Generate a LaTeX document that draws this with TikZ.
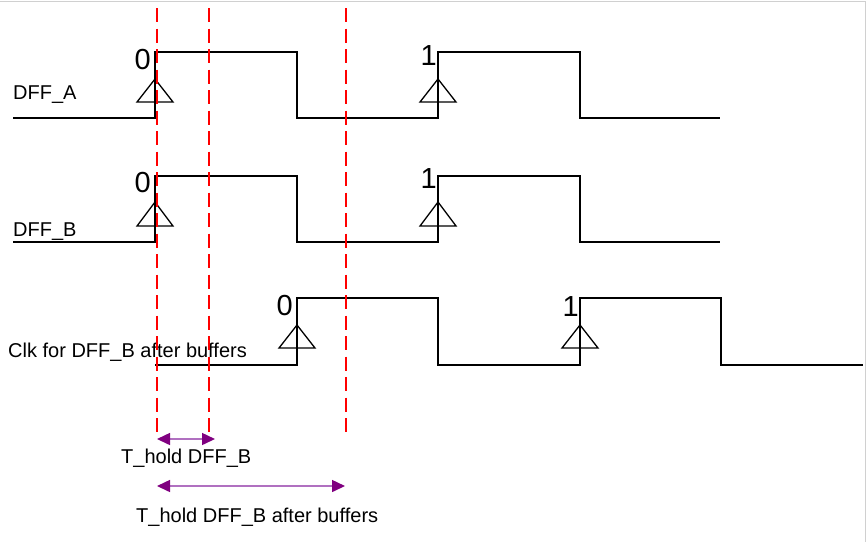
\documentclass[tikz,border=0pt]{standalone}
\usepackage{fontspec}
\setmainfont{Liberation Sans}
\usetikzlibrary{arrows.meta}
\definecolor{holdtip}{HTML}{800080}
\definecolor{holdline}{HTML}{B070C0}
\definecolor{framegray}{HTML}{D0D0D0}

\begin{document}
\begin{tikzpicture}[x=1pt, y=-1pt,
    wave/.style={line width=2.4pt, line join=miter},
    edgemark/.style={line width=1.3pt},
    cutline/.style={color=red, line width=2.2pt, dash pattern=on 14pt off 6.5pt},
    holdspan/.style={draw=holdline, line width=1.5pt,
      {Triangle[length=13pt,width=12pt,color=holdtip]}-{Triangle[length=13pt,width=12pt,color=holdtip]}},
    sig/.style={inner sep=0pt, anchor=base west, font=\fontsize{20}{24}\selectfont},
    bit/.style={inner sep=0pt, anchor=base east, font=\fontsize{29}{34}\selectfont}]
    \useasboundingbox (0,0) rectangle (866,542);
    % frame of the screenshot
    \draw[framegray, line width=1pt] (0,1.5) -- (865.5,1.5) -- (865.5,542);

    % clock edge marks
    \draw[edgemark] (137,102) -- (155,79) -- (173,102) -- cycle; % DFF_A
    \draw[edgemark] (420,102) -- (438,79) -- (456,102) -- cycle;
    \draw[edgemark] (137,226) -- (155,202) -- (173,226) -- cycle; % DFF_B
    \draw[edgemark] (420,226) -- (438,202) -- (456,226) -- cycle;
    \draw[edgemark] (279,348) -- (297,325) -- (315,348) -- cycle; % after buffers
    \draw[edgemark] (562,348) -- (580,325) -- (598,348) -- cycle;

    % waveforms
    \draw[wave] (13,118) -- (155,118) -- (155,52) -- (297,52) -- (297,118)
      -- (438,118) -- (438,52) -- (580,52) -- (580,118) -- (720,118);
    \draw[wave] (13,242) -- (155,242) -- (155,176) -- (297,176) -- (297,242)
      -- (438,242) -- (438,176) -- (580,176) -- (580,242) -- (720,242);
    \draw[wave] (155,365) -- (297,365) -- (297,298) -- (438,298) -- (438,365)
      -- (580,365) -- (580,298) -- (721,298) -- (721,365) -- (863,365);

    % signal names
    \node[sig] (nameA) at (13,99) {DFF\_A};
    \node[sig] (nameB) at (13,236) {DFF\_B};
    \node[sig] (nameC) at (8,357) {Clk for DFF\_B after buffers};

    % sampled bits
    \node[bit] (bitA0) at (151,69) {0};
    \node[bit] (bitA1) at (437,65) {1};
    \node[bit] (bitB0) at (151,192) {0};
    \node[bit] (bitB1) at (437,188) {1};
    \node[bit] (bitC0) at (293,315) {0};
    \node[bit] (bitC1) at (579,316) {1};

    % hold windows
    \coordinate (holdL1) at (157,439);
    \coordinate (holdR1) at (215,439);
    \coordinate (holdL2) at (157,486);
    \coordinate (holdR2) at (345,486);
    \draw[holdspan] (holdL1) -- (holdR1);
    \draw[holdspan] (holdL2) -- (holdR2);
    \node[sig] (holdtxt1) at (121,463) {T\_hold DFF\_B};
    \node[sig] (holdtxt2) at (136,522) {T\_hold DFF\_B after buffers};

    % dashed time marks
    \draw[cutline] (157,8) -- (157,433);
    \draw[cutline] (209,8) -- (209,433);
    \draw[cutline] (346,8) -- (346,433);
\end{tikzpicture}
\end{document}
